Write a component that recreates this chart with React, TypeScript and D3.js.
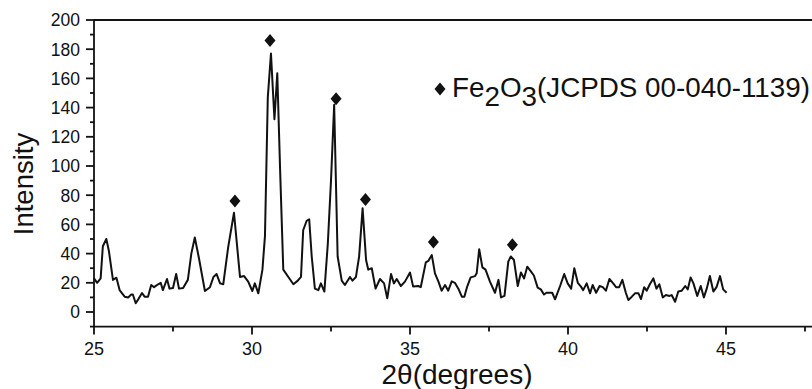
import React from "react";
import * as d3 from "d3";

// XRD pattern (2θ in degrees, intensity in counts)
const twoTheta = [
  25.0, 25.1, 25.21, 25.28, 25.39, 25.47, 25.6, 25.71, 25.81, 25.97, 26.08, 26.18, 26.23, 26.32, 26.41,
  26.52, 26.6, 26.71, 26.81, 26.9, 27.03, 27.11, 27.18, 27.31, 27.39, 27.5, 27.6, 27.69, 27.82, 27.97,
  28.08, 28.19, 28.32, 28.51, 28.67, 28.78, 28.88, 28.99, 29.09, 29.25, 29.43, 29.62, 29.75, 29.88, 30.01,
  30.09, 30.2, 30.33, 30.41, 30.5, 30.6, 30.71, 30.8, 30.89, 30.99, 31.15, 31.31, 31.45, 31.55, 31.62,
  31.73, 31.81, 31.89, 31.99, 32.1, 32.18, 32.29, 32.4, 32.5, 32.6, 32.71, 32.84, 32.94, 33.1, 33.18,
  33.29, 33.39, 33.5, 33.61, 33.68, 33.79, 33.91, 34.05, 34.18, 34.28, 34.4, 34.49, 34.58, 34.71, 34.84,
  35.0, 35.1, 35.26, 35.34, 35.5, 35.58, 35.69, 35.79, 35.9, 36.0, 36.11, 36.21, 36.32, 36.42, 36.53,
  36.64, 36.72, 36.81, 36.92, 37.06, 37.11, 37.19, 37.29, 37.39, 37.53, 37.69, 37.8, 37.88, 37.99, 38.11,
  38.19, 38.29, 38.41, 38.51, 38.61, 38.71, 38.82, 38.92, 39.04, 39.14, 39.24, 39.32, 39.5, 39.59, 39.75,
  39.88, 39.99, 40.1, 40.2, 40.31, 40.41, 40.48, 40.59, 40.7, 40.78, 40.89, 41.0, 41.1, 41.2, 41.31,
  41.43, 41.52, 41.62, 41.72, 41.83, 41.91, 42.02, 42.12, 42.23, 42.31, 42.41, 42.49, 42.59, 42.7, 42.8,
  42.89, 43.0, 43.1, 43.21, 43.28, 43.39, 43.49, 43.6, 43.71, 43.79, 43.88, 43.97, 44.09, 44.2, 44.3,
  44.39, 44.49, 44.6, 44.7, 44.81, 44.91, 45.02,
];
const intensity = [
  23, 20, 23, 45, 50, 42, 22, 23.5, 15, 10.5, 10, 12, 12, 6, 9,
  13, 10.5, 10.5, 18.5, 17, 19, 20, 15, 22.6, 16, 16.5, 26, 16, 16.5, 22,
  40, 51, 37, 14.4, 17, 24, 26, 19.6, 19, 45, 68, 24, 24.6, 20.8, 14.4,
  19.6, 12.8, 29, 52, 147, 177, 132, 163.5, 97, 29, 24, 19, 21.5, 24, 56,
  62.5, 63.5, 38, 16, 15, 19.6, 14, 47, 90, 142, 38, 21.5, 18.5, 24, 21.5,
  24, 38, 71, 35.6, 29, 30, 16, 22.6, 19.6, 9.4, 26, 19.6, 22.6, 17.8, 20.8,
  27, 17.4, 17.8, 17, 34, 35, 39, 26.5, 20.8, 14.6, 18.5, 14.6, 21, 20, 16,
  10.5, 10.5, 17.4, 23.7, 24.6, 26.5, 43, 30.6, 29, 20.8, 13.2, 22, 10, 11, 34.5,
  38, 35.6, 17.8, 27, 23, 31, 28, 25, 16.7, 15.5, 12, 13.2, 13.2, 8.7, 17.8,
  26, 19.6, 16, 30, 20, 17.4, 15, 19.6, 12.8, 18.5, 13.2, 17.8, 17, 14.6, 22.6,
  19.6, 17, 17, 22, 13.2, 8.2, 10.5, 12.8, 12.8, 8.9, 17, 14.6, 19, 23, 16,
  19, 10, 11.6, 11, 11.6, 7, 14, 14.6, 17.8, 15.5, 23.7, 19.6, 11, 17.8, 10,
  16, 24.6, 14, 17, 24.6, 15.5, 13.2,
];

// Fe2O3 reflection markers
const peakTheta = [29.46, 30.57, 32.66, 33.59, 35.74, 38.24];
const peakMark = [76, 186, 146, 77, 48, 46];

const xMajor = [25, 30, 35, 40, 45];
const xMinor = [27.5, 32.5, 37.5, 42.5, 47.5];
const yMajor = [0, 20, 40, 60, 80, 100, 120, 140, 160, 180, 200];
const yMinor = [-10, 10, 30, 50, 70, 90, 110, 130, 150, 170, 190];

const legendLabel = ["Fe", "2", "O", "3", "(JCPDS 00-040-1139)"];
const xTitle = "2θ(degrees)";
const yTitle = "Intensity";

const W = 812;
const H = 389;
const FONT = "'Liberation Sans', Arial, sans-serif";
const INK = "#111";

const diamond = (cx: number, cy: number, w = 11, h = 13) =>
  `M${cx},${cy - h / 2}L${cx + w / 2},${cy}L${cx},${cy + h / 2}L${cx - w / 2},${cy}Z`;

export default function App() {
  const x = d3.scaleLinear().domain([25, 48]).range([94, 820.8]);
  const y = d3.scaleLinear().domain([-10, 200]).range([326.6, 20]);

  const pts = twoTheta.map((t, i) => [t, intensity[i]] as [number, number]);
  const line = d3
    .line<[number, number]>()
    .x((d) => x(d[0]))
    .y((d) => y(d[1]));

  const x0 = x.range()[0];
  const y0 = y.range()[0];
  const yTop = y.range()[1];

  return (
    <svg
      width={W}
      height={H}
      style={{ position: "absolute", left: 0, top: 0, background: "#fff" }}
      fontFamily={FONT}
    >
      <rect x={0} y={0} width={W} height={H} fill="#fff" />

      {/* data */}
      <path d={line(pts) || ""} fill="none" stroke={INK} strokeWidth={2} strokeLinejoin="round" />

      {peakTheta.map((t, i) => (
        <path key={"pk" + i} d={diamond(x(t), y(peakMark[i]))} fill={INK} />
      ))}

      {/* frame */}
      <line x1={x0} x2={W} y1={yTop} y2={yTop} stroke={INK} strokeWidth={1.8} />
      <line x1={x0} x2={W} y1={y0} y2={y0} stroke={INK} strokeWidth={1.8} />
      <line x1={x0} x2={x0} y1={yTop} y2={y0} stroke={INK} strokeWidth={1.8} />

      {/* x ticks */}
      {xMajor.map((t) => (
        <g key={"xt" + t}>
          <line x1={x(t)} x2={x(t)} y1={y0} y2={y0 + 8} stroke={INK} strokeWidth={1.8} />
          <text x={x(t)} y={355} textAnchor="middle" fontSize={18} fill={INK}>
            {t}
          </text>
        </g>
      ))}
      {xMinor.map((t) => (
        <line key={"xm" + t} x1={x(t)} x2={x(t)} y1={y0} y2={y0 + 5} stroke={INK} strokeWidth={1.8} />
      ))}

      {/* y ticks */}
      {yMajor.map((v) => (
        <g key={"yt" + v}>
          <line x1={x0 - 8} x2={x0} y1={y(v)} y2={y(v)} stroke={INK} strokeWidth={1.8} />
          <text x={80} y={y(v)} dy="0.36em" textAnchor="end" fontSize={17.5} fill={INK}>
            {v}
          </text>
        </g>
      ))}
      {yMinor.map((v) => (
        <line key={"ym" + v} x1={x0 - 4} x2={x0} y1={y(v)} y2={y(v)} stroke={INK} strokeWidth={1.8} />
      ))}

      {/* titles */}
      <text x={457} y={384} textAnchor="middle" fontSize={28} fill={INK}>
        {xTitle}
      </text>
      <text
        transform="translate(33,184) rotate(-90)"
        textAnchor="middle"
        fontSize={27.5}
        fill={INK}
      >
        {yTitle}
      </text>

      {/* legend */}
      <path d={diamond(440, 89)} fill={INK} />
      <text x={452} y={97} fontSize={27.8} fill={INK}>
        <tspan>{legendLabel[0]}</tspan>
        <tspan dy={9}>{legendLabel[1]}</tspan>
        <tspan dy={-9}>{legendLabel[2]}</tspan>
        <tspan dy={9}>{legendLabel[3]}</tspan>
        <tspan dy={-9}>{legendLabel[4]}</tspan>
      </text>
    </svg>
  );
}
